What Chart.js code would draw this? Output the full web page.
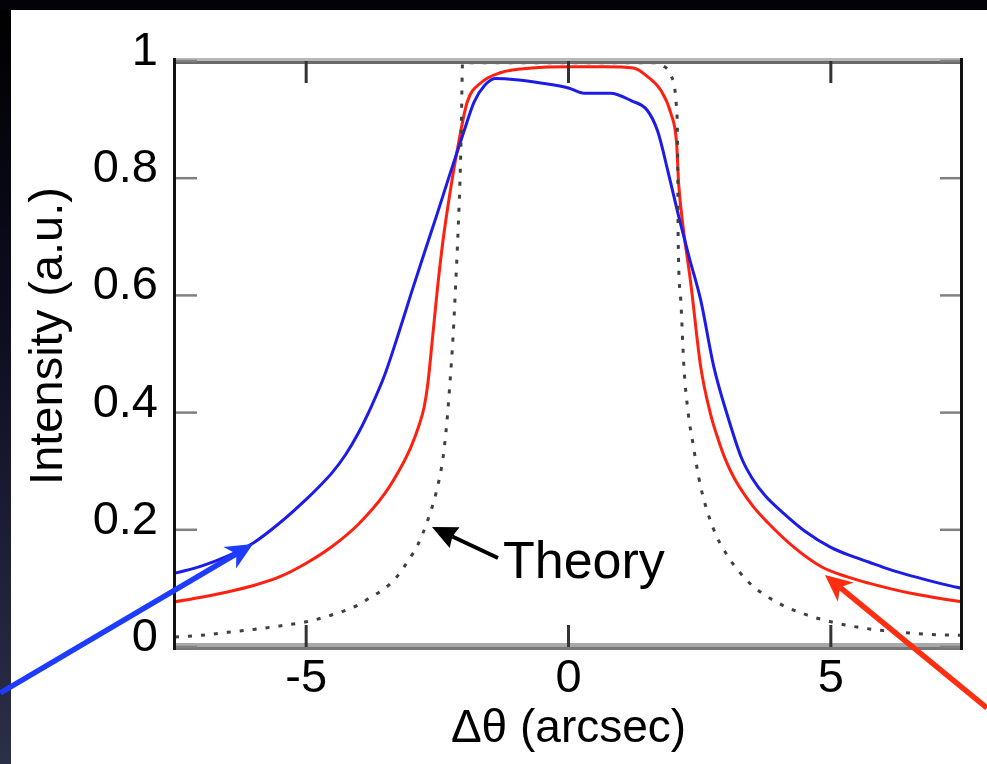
<!DOCTYPE html>
<html><head><meta charset="utf-8">
<script src="https://cdn.jsdelivr.net/npm/chart.js@4.4.0/dist/chart.umd.min.js"></script>
<style>html,body{margin:0;padding:0;background:#000;overflow:hidden}canvas{display:block}</style>
</head><body>
<canvas id="c" width="987" height="764"></canvas>
<script>
// ---- data ----
const blueX = [-7.5,-7.0,-6.5,-6.0,-5.5,-5.0,-4.75,-4.5,-4.25,-4.0,-3.75,-3.5,-3.25,-3.0,-2.75,-2.5,-2.25,-2.0,-1.8,-1.6,-1.4,-1.0,-0.5,0.0,0.3,0.8,1.2,1.5,1.7,1.9,2.1,2.3,2.52,2.77,3.04,3.3,3.5,3.75,4.1,4.5,5.0,5.4,5.72,6.0,6.35,6.8,7.2,7.5];
const blueY = [0.126,0.138,0.155,0.178,0.212,0.252,0.274,0.298,0.328,0.366,0.412,0.465,0.532,0.603,0.672,0.74,0.81,0.878,0.93,0.958,0.97,0.968,0.962,0.954,0.945,0.945,0.932,0.916,0.88,0.81,0.735,0.665,0.592,0.478,0.392,0.322,0.288,0.258,0.228,0.198,0.17,0.155,0.145,0.136,0.126,0.115,0.106,0.10];

const redX = [-7.5,-7.0,-6.5,-6.0,-5.5,-5.0,-4.5,-4.0,-3.5,-3.15,-3.0,-2.85,-2.75,-2.68,-2.6,-2.5,-2.39,-2.25,-2.12,-1.93,-1.68,-1.3,-0.7,0.0,0.7,1.24,1.51,1.76,1.95,2.06,2.1,2.18,2.33,2.52,2.7,2.85,3.0,3.16,3.5,3.8,4.3,4.82,5.3,5.72,6.5,7.0,7.5];
const redY = [0.077,0.085,0.094,0.105,0.12,0.143,0.172,0.21,0.262,0.314,0.342,0.378,0.41,0.45,0.52,0.61,0.695,0.78,0.848,0.93,0.962,0.98,0.988,0.99,0.99,0.988,0.973,0.95,0.911,0.86,0.79,0.72,0.621,0.478,0.40,0.355,0.318,0.288,0.242,0.212,0.17,0.137,0.12,0.109,0.092,0.084,0.077];

const theoryX = [-7.5,-7.0,-6.5,-6.0,-5.5,-5.0,-4.5,-4.0,-3.79,-3.5,-3.27,-3.0,-2.89,-2.68,-2.51,-2.39,-2.32,-2.26,-2.2,-2.15,-2.1,-2.06,-2.04,-2.03,-2.02,0.0,1.65,1.8,1.95,2.05,2.08,2.09,2.14,2.2,2.28,2.37,2.52,2.77,3.0,3.23,3.5,4.0,4.5,5.0,5.5,6.0,6.5,7.0,7.5];
const theoryY = [0.017,0.02,0.025,0.03,0.036,0.043,0.055,0.072,0.084,0.10,0.12,0.155,0.171,0.217,0.268,0.324,0.382,0.45,0.53,0.62,0.72,0.82,0.90,0.96,0.997,0.997,0.997,0.992,0.976,0.93,0.85,0.70,0.592,0.478,0.40,0.348,0.273,0.20,0.16,0.131,0.105,0.075,0.056,0.043,0.034,0.028,0.024,0.021,0.02];

const xTicks = [-5, 0, 5];
const xTickLabels = ['-5', '0', '5'];
const yTicks = [0, 0.2, 0.4, 0.6, 0.8, 1];
const yTickLabels = ['0', '0.2', '0.4', '0.6', '0.8', '1'];

// annotations (data coordinates)
const arrowsData = [
  {from: [-10.83, -0.0785], to: [-6.013, 0.1758], color: '#1e3cff', lw: 5.5, head: 27, headW: 25, notch: 0.72},
  {from: [7.975, -0.104],   to: [4.888, 0.1229],  color: '#ff2e10', lw: 5.5, head: 27, headW: 25, notch: 0.72},
  {from: [-1.344, 0.1519],  to: [-2.602, 0.2048], color: '#000000', lw: 4,   head: 25, headW: 23, notch: 0.9}
];
const theoryLabel = {text: 'Theory', at: [-1.249, 0.1177]};

// ---- chart ----
const FONT = "'Liberation Sans', Arial, Helvetica, sans-serif";
const pts = (xs, ys) => xs.map((x, i) => ({x: x, y: ys[i]}));

function drawArrow(ctx, x1, y1, x2, y2, a) {
  const ang = Math.atan2(y2 - y1, x2 - x1);
  const c = Math.cos(ang), s = Math.sin(ang);
  const n = a.head * a.notch;
  ctx.strokeStyle = a.color; ctx.fillStyle = a.color;
  ctx.lineWidth = a.lw; ctx.lineCap = 'butt';
  ctx.beginPath(); ctx.moveTo(x1, y1); ctx.lineTo(x2 - c * n, y2 - s * n); ctx.stroke();
  ctx.beginPath();
  ctx.moveTo(x2, y2);
  ctx.lineTo(x2 - c * a.head - s * a.headW / 2, y2 - s * a.head + c * a.headW / 2);
  ctx.lineTo(x2 - c * n, y2 - s * n);
  ctx.lineTo(x2 - c * a.head + s * a.headW / 2, y2 - s * a.head - c * a.headW / 2);
  ctx.closePath(); ctx.fill();
}

const framePlugin = {
  id: 'frame',
  afterLayout(chart) {
    const ys = chart.scales.y;
    if (ys && !ys._shifted) {
      const orig = ys.drawTitle;
      ys.drawTitle = function () {
        const c = this.ctx; c.save(); c.translate(0, -18); orig.call(this); c.restore();
      };
      ys._shifted = true;
    }
  },
  beforeDraw(chart) {
    const {ctx, width, height} = chart;
    ctx.save();
    const g = ctx.createLinearGradient(0, 0, 0, height);
    g.addColorStop(0, '#000000');
    g.addColorStop(0.4, '#0c0c1e');
    g.addColorStop(1, '#2c2f48');
    ctx.fillStyle = g; ctx.fillRect(0, 0, width, height);
    ctx.fillStyle = '#020208'; ctx.fillRect(0, 0, width, 10);
    ctx.fillStyle = '#ffffff'; ctx.fillRect(11, 10, width - 11, height - 10);
    ctx.restore();
  },
  afterDatasetsDraw(chart) {
    const {ctx, chartArea: a, scales: {x, y}} = chart;
    ctx.save();
    // top / bottom border (grey)
    ctx.fillStyle = '#b8b8b8'; ctx.fillRect(a.left, a.top - 3, a.right - a.left, 3);
    ctx.fillStyle = '#6a6a6a'; ctx.fillRect(a.left, a.top, a.right - a.left, 3);
    ctx.fillStyle = '#a8a8a8'; ctx.fillRect(a.left, a.bottom - 4, a.right - a.left, 4);
    ctx.fillStyle = '#777777'; ctx.fillRect(a.left, a.bottom, a.right - a.left, 3);
    // y ticks (inward, both sides)
    ctx.strokeStyle = '#808080'; ctx.lineWidth = 2.5;
    y.ticks.forEach(t => {
      const py = y.getPixelForValue(t.value);
      ctx.beginPath(); ctx.moveTo(a.left, py); ctx.lineTo(a.left + 22, py); ctx.stroke();
      ctx.beginPath(); ctx.moveTo(a.right, py); ctx.lineTo(a.right - 22, py); ctx.stroke();
    });
    // x ticks
    ctx.strokeStyle = '#333333'; ctx.lineWidth = 3;
    x.ticks.forEach(t => {
      const px = x.getPixelForValue(t.value);
      ctx.beginPath(); ctx.moveTo(px, a.bottom); ctx.lineTo(px, a.bottom - 22); ctx.stroke();
      ctx.beginPath(); ctx.moveTo(px, a.top); ctx.lineTo(px, a.top + 22); ctx.stroke();
    });
    // left / right border (black)
    ctx.fillStyle = '#111111';
    ctx.fillRect(a.left - 2, a.top - 3, 3, a.bottom - a.top + 6);
    ctx.fillRect(a.right - 2, a.top - 3, 3, a.bottom - a.top + 6);
    ctx.restore();
  },
  afterDraw(chart) {
    const {ctx, scales: {x, y}} = chart;
    ctx.save();
    arrowsData.forEach(a => {
      drawArrow(ctx, x.getPixelForValue(a.from[0]), y.getPixelForValue(a.from[1]),
                x.getPixelForValue(a.to[0]), y.getPixelForValue(a.to[1]), a);
    });
    ctx.fillStyle = '#000';
    ctx.font = '52px ' + FONT;
    ctx.textAlign = 'left'; ctx.textBaseline = 'alphabetic';
    ctx.fillText(theoryLabel.text, x.getPixelForValue(theoryLabel.at[0]), y.getPixelForValue(theoryLabel.at[1]));
    ctx.restore();
  }
};

new Chart(document.getElementById('c'), {
  type: 'line',
  data: {
    datasets: [
      {label: 'Theory', data: pts(theoryX, theoryY), borderColor: '#404040', borderWidth: 3,
       borderDash: [4, 9], pointRadius: 0, cubicInterpolationMode: 'monotone', fill: false},
      {label: 'Blue', data: pts(blueX, blueY), borderColor: '#1c1ce6', borderWidth: 3,
       pointRadius: 0, cubicInterpolationMode: 'monotone', fill: false},
      {label: 'Red', data: pts(redX, redY), borderColor: '#ff2010', borderWidth: 3,
       pointRadius: 0, cubicInterpolationMode: 'monotone', fill: false}
    ]
  },
  options: {
    responsive: false,
    animation: false,
    devicePixelRatio: 1,
    layout: {padding: {left: 0, right: 25, top: 61, bottom: 0}},
    plugins: {legend: {display: false}, tooltip: {enabled: false}},
    events: [],
    scales: {
      x: {
        type: 'linear', min: -7.5, max: 7.5,
        grid: {display: false, drawTicks: false},
        border: {display: false},
        afterBuildTicks: s => { s.ticks = xTicks.map(v => ({value: v})); },
        afterFit: s => { s.height = 117; },
        ticks: {
          padding: 4, color: '#000', maxRotation: 0, autoSkip: false,
          font: {family: FONT, size: 47},
          callback: (v) => xTickLabels[xTicks.indexOf(v)]
        },
        title: {display: true, text: 'Δθ (arcsec)', color: '#000',
                font: {family: FONT, size: 46}, padding: {top: 0, bottom: 7}}
      },
      y: {
        type: 'linear', min: 0, max: 1,
        grid: {display: false, drawTicks: false},
        border: {display: false},
        afterBuildTicks: s => { s.ticks = yTicks.map(v => ({value: v})); },
        afterFit: s => { s.width = 175; },
        ticks: {
          padding: 17, labelOffset: -9, color: '#000', autoSkip: false,
          font: {family: FONT, size: 47},
          callback: (v) => yTickLabels[yTicks.indexOf(v)]
        },
        title: {display: true, text: 'Intensity (a.u.)', color: '#000',
                font: {family: FONT, size: 47}, padding: {top: 21, bottom: 0}}
      }
    }
  },
  plugins: [framePlugin]
});
</script>
</body></html>
